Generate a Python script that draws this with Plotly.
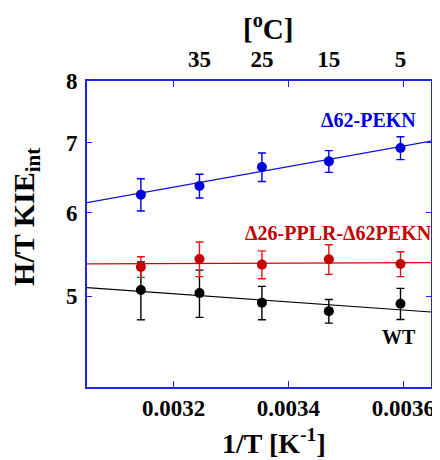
import plotly.graph_objects as go

# ---- data ----
temps_c = [45, 35, 25, 15, 5]
inv_t = [0.0031432, 0.0032452, 0.0033539, 0.0034704, 0.0035951]

wt_kie = [5.07, 5.035, 4.93, 4.84, 4.92]
wt_err = [0.32, 0.26, 0.18, 0.125, 0.167]
d62_kie = [6.245, 6.364, 6.634, 6.717, 6.916]
d62_err = [0.22, 0.165, 0.206, 0.16, 0.173]
d26_kie = [5.331, 5.425, 5.359, 5.421, 5.366]
d26_err = [0.12, 0.205, 0.163, 0.175, 0.146]

fit_x = [0.0030494, 0.0036482]
wt_fit = [5.095, 4.831]
d62_fit = [6.137, 7.021]
d26_fit = [5.368, 5.382]

bottom_ticks = [0.0032, 0.0034, 0.0036]
bottom_labels = ["0.0032", "0.0034", "0.0036"]
top_tick_c = [35, 25, 15, 5]
top_tick_x = [0.0032452, 0.0033539, 0.0034704, 0.0035951]
y_ticks = [5, 6, 7, 8]

BLUE = "#0000dd"
AXIS = "#2222ee"
RED = "#c40000"
REDBAR = "#ee1111"
FONT = "Liberation Serif"

fig = go.Figure()

def add_series(y, err, color, barcolor, fit, linecolor):
    fig.add_trace(go.Scatter(x=fit_x, y=fit, mode="lines",
                             line=dict(color=linecolor, width=1.2),
                             showlegend=False, hoverinfo="skip"))
    fig.add_trace(go.Scatter(x=inv_t, y=y, mode="markers",
                             marker=dict(color=color, size=10),
                             error_y=dict(type="data", array=err, color=barcolor,
                                          thickness=1.4, width=4),
                             showlegend=False))

add_series(wt_kie, wt_err, "black", "black", wt_fit, "black")
add_series(d26_kie, d26_err, RED, REDBAR, d26_fit, "#dd0000")
add_series(d62_kie, d62_err, BLUE, BLUE, d62_fit, "#1111dd")

# invisible trace so the top (temperature) axis is drawn
fig.add_trace(go.Scatter(x=inv_t, y=d26_kie, xaxis="x2", mode="markers",
                         marker=dict(opacity=0), showlegend=False, hoverinfo="skip"))

tickfont = dict(family=FONT, size=23, color="black", weight="bold")

fig.update_layout(
    width=432, height=452,
    margin=dict(l=79, r=5, t=73, b=73),
    paper_bgcolor="white", plot_bgcolor="white",
    xaxis=dict(range=[0.0030494, 0.0036482], tickvals=bottom_ticks, ticktext=bottom_labels,
               ticks="inside", ticklen=6, tickwidth=1.3, tickcolor=AXIS,
               showline=True, linecolor=AXIS, linewidth=1.6, mirror="ticks",
               showgrid=False, zeroline=False, tickfont=tickfont),
    xaxis2=dict(overlaying="x", side="top", range=[0.0030494, 0.0036482],
                tickvals=top_tick_x, ticktext=[str(t) for t in top_tick_c],
                ticks="", showline=False, showgrid=False, zeroline=False,
                ticklabelstandoff=8, tickfont=tickfont),
    yaxis=dict(type="log", range=[0.6128, 0.9035], tickvals=y_ticks,
               ticktext=[str(v) for v in y_ticks],
               ticks="inside", ticklen=5, tickwidth=1.3, tickcolor=AXIS,
               showline=True, linecolor=AXIS, linewidth=1.6, mirror="ticks",
               ticklabelstandoff=3,
               showgrid=False, zeroline=False, tickfont=tickfont),
)

def ann(text, x, y, size, color="black", xanchor="center", angle=0, yanchor="middle"):
    fig.add_annotation(text=text, x=x, y=y, xref="paper", yref="paper",
                       xanchor=xanchor, yanchor=yanchor, showarrow=False,
                       textangle=angle,
                       font=dict(family=FONT, size=size, color=color, weight="bold"))

ann("[<sup>o</sup>C]", 0.526, 1.176, 29)
ann("1/T [K<sup>-1</sup>]", 0.545, -0.178, 28)
ann("H/T KIE<sub>int</sub>", -0.178, 0.555, 30, angle=-90)
ann("Δ62-PEKN", 0.963, 0.8725, 20, color=BLUE, xanchor="right")
ann("Δ26-PPLR-Δ62PEKN", 1.009, 0.503, 20, color=RED, xanchor="right")
ann("WT", 0.963, 0.163, 20, xanchor="right")

fig.write_html("out.html")
